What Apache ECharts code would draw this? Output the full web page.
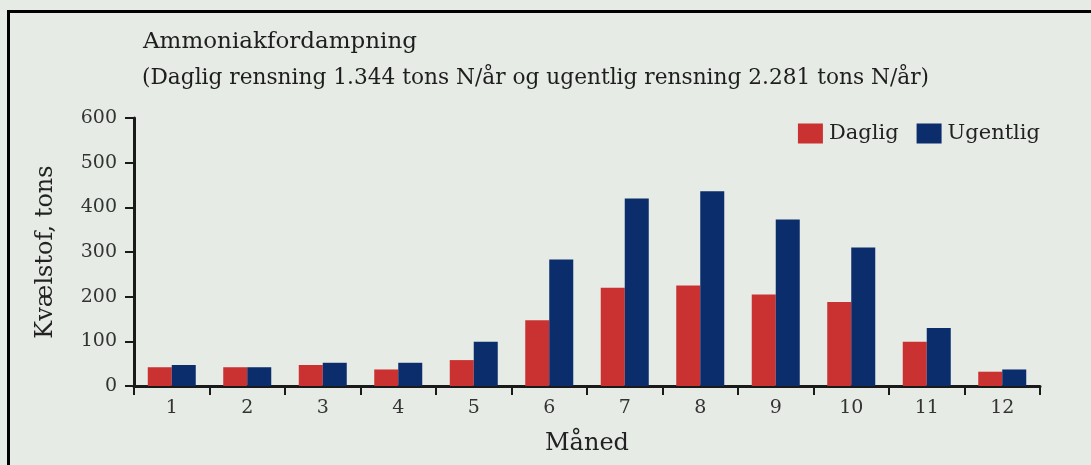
<!DOCTYPE html>
<html>
<head>
<meta charset="utf-8">
<script src="https://cdn.jsdelivr.net/npm/echarts@6/dist/echarts.min.js"></script>
<style>
html,body{margin:0;padding:0;background:#e6ebe5;}
#c{width:1091px;height:465px;}
</style>
</head>
<body>
<div id="c"></div>
<script>
const months = ['1','2','3','4','5','6','7','8','9','10','11','12'];
const daglig = [42, 42, 47, 37, 58, 147, 220, 225, 205, 188, 99, 32];
const ugentlig = [47, 42, 52, 52, 99, 283, 420, 436, 373, 310, 130, 37];
const yTicks = [0, 100, 200, 300, 400, 500, 600];
const titleText = 'Ammoniakfordampning';
const subtitleText = '(Daglig rensning 1.344 tons N/år og ugentlig rensning 2.281 tons N/år)';

const FONT = 'DejaVu Serif';
const chart = echarts.init(document.getElementById('c'));
chart.setOption({
  backgroundColor: '#e6ebe5',
  animation: false,
  title: [
    {text: titleText, left: 138, top: 26, textStyle: {fontFamily: FONT, fontSize: 23, fontWeight: 'normal', color: '#1e1e1e'}},
    {text: subtitleText, left: 137, top: 62, textStyle: {fontFamily: FONT, fontSize: 21.7, fontWeight: 'normal', color: '#1e1e1e'}}
  ],
  legend: {
    right: 46, top: 118,
    icon: 'rect',
    itemWidth: 25, itemHeight: 20, itemGap: 18,
    textStyle: {fontFamily: FONT, fontSize: 21, color: '#222', padding: [0,0,0,1]},
    data: ['Daglig', 'Ugentlig']
  },
  graphic: [
    {type: 'rect', shape: {x: 7, y: 10, width: 1084, height: 3}, style: {fill: '#000'}},
    {type: 'rect', shape: {x: 7, y: 10, width: 3, height: 455}, style: {fill: '#000'}}
  ],
  grid: {left: 134, right: 51, top: 118, bottom: 79, containLabel: false},
  xAxis: {
    type: 'category', data: months,
    name: 'Måned', nameLocation: 'middle', nameGap: 46,
    nameTextStyle: {fontFamily: FONT, fontSize: 24, color: '#222'},
    axisLine: {lineStyle: {color: '#1a1a1a', width: 3}},
    axisTick: {show: true, length: 9, lineStyle: {color: '#1a1a1a', width: 2}, alignWithLabel: false},
    axisLabel: {fontFamily: FONT, fontSize: 19, color: '#333', margin: 13}
  },
  yAxis: {
    type: 'value', min: 0, max: 600, interval: 100,
    name: 'Kvælstof, tons', nameLocation: 'middle', nameGap: 76,
    nameTextStyle: {fontFamily: FONT, fontSize: 24, color: '#222'},
    axisLine: {show: true, lineStyle: {color: '#1a1a1a', width: 3}},
    axisTick: {show: true, length: 9, lineStyle: {color: '#1a1a1a', width: 2}},
    axisLabel: {fontFamily: FONT, fontSize: 19, color: '#333', margin: 17,
      formatter: v => yTicks.indexOf(v) >= 0 ? String(v) : ''},
    splitLine: {show: false}
  },
  series: [
    {name: 'Daglig', type: 'bar', data: daglig, barWidth: 24, barGap: '0%', itemStyle: {color: '#c93230'}},
    {name: 'Ugentlig', type: 'bar', data: ugentlig, barWidth: 24, barGap: '0%', itemStyle: {color: '#0b2d6b'}}
  ]
});
</script>
</body>
</html>
